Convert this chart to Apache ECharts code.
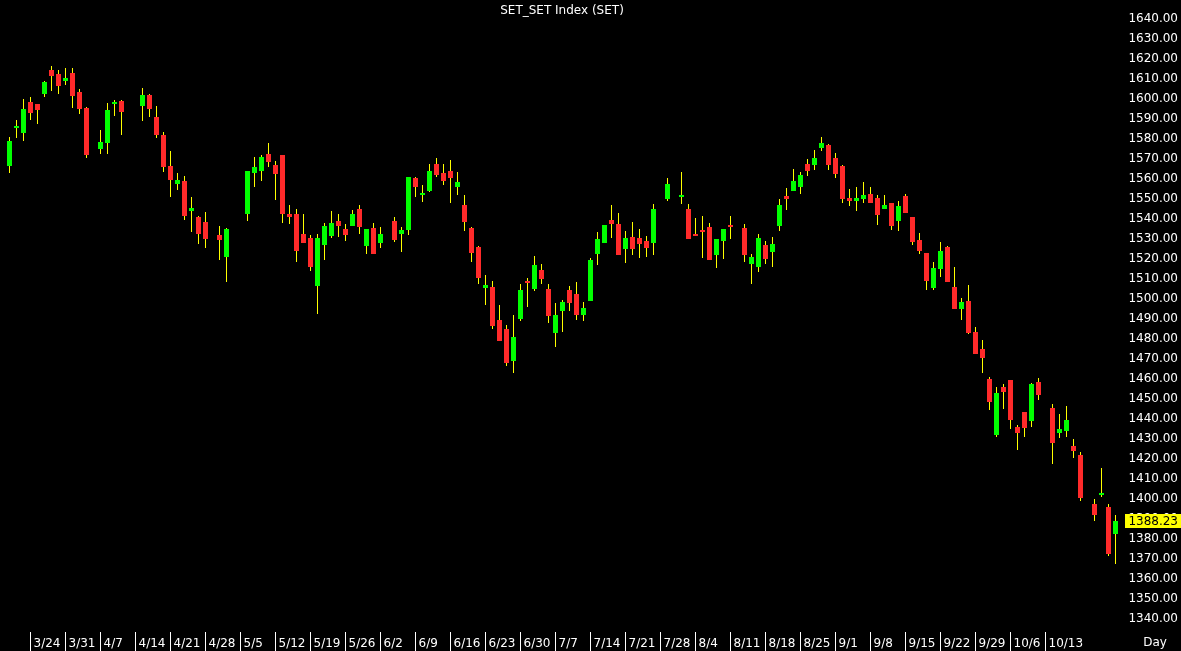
<!DOCTYPE html>
<html>
<head>
<meta charset="utf-8">
<script src="https://cdn.jsdelivr.net/npm/echarts@6/dist/echarts.min.js"></script>
<style>
html,body{margin:0;padding:0;background:#000;}
#chart{width:1181px;height:651px;}
</style>
</head>
<body>
<div id="chart"></div>
<script>
// Trading-day slots (weekdays, 2023); holidays have null values
const categories = ("3/21 3/22 3/23 3/24 3/27 3/28 3/29 3/30 3/31 " +
  "4/3 4/4 4/5 4/6 4/7 4/10 4/11 4/12 4/13 4/14 4/17 4/18 4/19 4/20 4/21 4/24 4/25 4/26 4/27 4/28 " +
  "5/1 5/2 5/3 5/4 5/5 5/8 5/9 5/10 5/11 5/12 5/15 5/16 5/17 5/18 5/19 5/22 5/23 5/24 5/25 5/26 5/29 5/30 5/31 " +
  "6/1 6/2 6/5 6/6 6/7 6/8 6/9 6/12 6/13 6/14 6/15 6/16 6/19 6/20 6/21 6/22 6/23 6/26 6/27 6/28 6/29 6/30 " +
  "7/3 7/4 7/5 7/6 7/7 7/10 7/11 7/12 7/13 7/14 7/17 7/18 7/19 7/20 7/21 7/24 7/25 7/26 7/27 7/28 7/31 " +
  "8/1 8/2 8/3 8/4 8/7 8/8 8/9 8/10 8/11 8/14 8/15 8/16 8/17 8/18 8/21 8/22 8/23 8/24 8/25 8/28 8/29 8/30 8/31 " +
  "9/1 9/4 9/5 9/6 9/7 9/8 9/11 9/12 9/13 9/14 9/15 9/18 9/19 9/20 9/21 9/22 9/25 9/26 9/27 9/28 9/29 " +
  "10/2 10/3 10/4 10/5 10/6 10/9 10/10 10/11 10/12 10/13 10/16 10/17 10/18 10/19 10/20 10/23 10/24 10/25 10/26 10/27").split(" ");

const tickLabels = ["3/24","3/31","4/7","4/14","4/21","4/28","5/5","5/12","5/19","5/26","6/2","6/9","6/16","6/23","6/30",
  "7/7","7/14","7/21","7/28","8/4","8/11","8/18","8/25","9/1","9/8","9/15","9/22","9/29","10/6","10/13"];

const N = null;
const opens = [
 1565.7,1585.0,1582.0,1597.5,1596.3,1601.7,1613.7,1611.7,1607.8,1612.0,1602.5,1594.5,N,1574.0,1577.0,1597.0,1598.0,N,N,1595.7,
 1601.2,1590.0,1581.0,1565.7,1556.3,1558.0,1543.2,1540.0,1537.5,N,1531.0,1520.2,N,N,1541.5,1561.8,1562.8,1571.7,1566.0,1571.2,
 1541.5,1541.7,1531.5,1529.5,1505.3,1526.2,1530.5,1538.0,1533.8,1535.7,1544.0,1525.7,1534.5,1527.0,N,1538.0,1531.5,1533.7,1559.5,1551.2,
 1553.0,1566.5,1562.0,1563.0,1555.0,1546.0,1534.5,1525.0,1504.7,1504.8,1488.5,1484.0,1468.2,1489.0,1508.2,1504.2,1513.5,1504.0,1482.0,1493.2,
 1503.5,1501.5,1491.2,1497.8,1521.5,1527.2,1538.3,1536.5,1524.2,1530.0,1529.5,1527.8,1527.2,N,1548.8,N,1550.2,1544.2,1531.5,1533.7,
 1535.0,1521.2,1528.2,1536.0,N,1534.7,1516.7,1515.2,1526.2,1522.7,1535.7,1550.7,1553.2,1554.8,1566.5,1566.2,1574.7,1576.0,1569.7,1565.5,
 1549.3,1547.8,1549.0,1551.7,1549.5,1544.2,1547.0,1538.2,1550.5,1539.8,1528.3,1522.0,1504.7,1514.0,1525.0,1505.2,1494.2,1498.2,1482.7,1474.0,
 1459.2,1430.8,1455.0,1458.5,1435.0,1442.5,1438.2,1457.5,N,1444.5,1432.0,1433.2,1425.7,1420.8,N,1396.5,1401.3,1395.0,1381.7];
const highs = [
 1580.0,1588.5,1599.0,1600.0,1596.5,1608.0,1615.7,1613.5,1614.3,1614.3,1604.0,1595.0,N,1583.3,1596.8,1598.3,1598.5,N,N,1604.5,
 1601.7,1595.5,1582.7,1572.8,1561.8,1560.3,1550.0,1540.5,1542.5,N,1535.5,1534.3,N,N,1562.8,1569.8,1571.0,1577.0,1568.0,1571.2,
 1546.0,1544.0,1541.5,1530.8,1531.3,1536.8,1543.0,1541.5,1536.5,1543.5,1546.0,1534.0,1537.0,1534.8,N,1539.8,1534.8,1560.0,1559.8,1556.2,
 1566.5,1569.7,1566.5,1568.3,1562.5,1550.8,1535.0,1525.5,1510.8,1508.0,1496.2,1486.2,1491.2,1506.5,1509.5,1520.5,1516.5,1506.3,1497.0,1498.7,
 1505.7,1507.3,1497.5,1519.3,1532.5,1536.0,1546.0,1541.8,1532.8,1537.5,1534.0,1530.5,1546.5,N,1559.5,N,1562.5,1546.3,1539.5,1540.5,
 1537.2,1529.0,1533.8,1540.5,N,1536.3,1521.7,1531.5,1528.0,1529.8,1548.8,1554.5,1564.0,1562.3,1569.2,1573.5,1580.0,1576.7,1572.2,1566.0,
 1554.2,1555.0,1557.3,1554.8,1550.8,1550.8,1547.0,1548.0,1551.3,1539.8,1532.0,1522.0,1517.5,1527.5,1525.5,1515.2,1499.5,1506.0,1485.0,1478.3,
 1460.2,1455.0,1456.7,1458.5,1436.0,1442.5,1457.0,1459.5,N,1446.7,1441.3,1445.7,1429.0,1422.7,N,1399.0,1414.5,1396.3,1391.0];
const lows = [
 1562.0,1579.7,1578.0,1588.5,1586.3,1600.2,1602.8,1601.3,1606.0,1594.3,1591.7,1569.7,N,1571.7,1571.5,1590.7,1581.0,N,N,1588.2,
 1590.0,1579.7,1562.5,1550.0,1553.5,1538.7,1532.7,1526.3,1524.7,N,1518.3,1507.7,N,N,1538.0,1555.2,1558.2,1565.2,1548.3,1537.2,
 1536.7,1517.7,1526.8,1513.0,1491.5,1518.7,1529.7,1530.0,1528.0,1535.7,1531.5,1521.7,1521.5,1524.7,N,1527.3,1522.7,1531.0,1549.8,1547.7,
 1552.3,1559.8,1555.8,1546.8,1551.0,1533.2,1517.7,1506.5,1496.2,1484.2,1478.2,1465.7,1462.2,1488.2,1495.0,1502.8,1506.7,1486.8,1475.2,1482.7,
 1493.0,1488.3,1487.8,1497.8,1515.8,1527.2,1529.7,1521.2,1517.2,1521.2,1519.7,1519.8,1521.2,N,1548.2,N,1546.5,1528.8,1530.7,1519.7,
 1518.7,1514.7,1519.0,1529.2,N,1517.7,1506.3,1512.5,1516.7,1515.2,1533.0,1543.7,1553.0,1551.7,1560.7,1563.5,1573.2,1563.3,1559.7,1547.2,
 1545.7,1543.0,1546.8,1547.2,1536.2,1543.8,1533.7,1532.8,1542.0,1525.8,1521.5,1503.5,1503.5,1509.8,1507.3,1494.0,1488.5,1481.7,1471.7,1462.0,
 1443.5,1430.2,1443.8,1434.2,1423.5,1430.2,1434.8,1448.7,N,1416.7,1429.7,1430.2,1419.7,1398.2,N,1388.0,1399.8,1370.7,1366.7];
const closes = [
 1577.8,1585.5,1594.0,1592.0,1593.5,1607.3,1610.7,1605.7,1609.5,1600.7,1594.2,1571.2,N,1577.5,1593.5,1597.7,1592.7,N,N,1601.0,
 1594.0,1581.0,1565.2,1558.7,1558.5,1540.3,1544.5,1531.3,1529.2,N,1528.5,1534.0,N,N,1562.8,1565.0,1570.0,1567.7,1561.5,1541.5,
 1540.0,1522.8,1526.8,1515.0,1529.7,1535.5,1537.0,1535.5,1531.0,1541.5,1535.0,1534.0,1521.5,1531.7,N,1528.7,1533.7,1560.0,1555.2,1552.0,
 1563.0,1561.2,1557.8,1559.7,1557.3,1537.7,1522.2,1509.5,1506.0,1485.5,1478.2,1467.2,1480.0,1503.7,1507.0,1516.0,1509.0,1490.7,1491.0,1497.5,
 1497.2,1491.2,1494.5,1518.3,1529.2,1535.8,1536.7,1521.2,1529.7,1524.2,1526.7,1524.7,1543.8,N,1556.5,N,1550.8,1529.2,1530.7,1532.7,
 1518.7,1529.0,1533.8,1535.2,N,1521.0,1520.0,1529.5,1519.2,1526.5,1546.0,1549.2,1558.0,1560.8,1563.2,1569.5,1577.2,1566.2,1561.7,1549.0,
 1548.2,1549.3,1550.8,1547.2,1541.2,1545.8,1535.7,1545.5,1542.2,1527.7,1523.2,1508.0,1514.7,1523.2,1507.3,1494.0,1497.7,1482.2,1471.7,1469.7,
 1447.7,1451.8,1452.7,1438.5,1431.8,1434.7,1456.5,1450.8,N,1427.2,1434.0,1438.5,1423.2,1399.5,N,1391.0,1402.2,1371.5,1388.23];

const lastClose = closes[closes.length - 1];

const candleData = [];
for (let i = 0; i < categories.length; i++) {
  if (opens[i] === null) continue;
  candleData.push([i, opens[i], closes[i], lows[i], highs[i]]);
}

const FONT = '"DejaVu Sans", Tahoma, Verdana, sans-serif';
const chart = echarts.init(document.getElementById('chart'), null, {renderer: 'canvas'});

chart.setOption({
  backgroundColor: '#000000',
  animation: false,
  grid: {left: 6, right: 62, top: 17, bottom: 34, containLabel: false},
  xAxis: {
    type: 'category',
    data: categories,
    boundaryGap: true,
    offset: 15,
    axisLine: {show: false},
    axisTick: {
      show: true,
      alignWithLabel: true,
      length: 19,
      interval: (idx, val) => tickLabels.indexOf(val) >= 0,
      lineStyle: {color: '#ffffff', width: 1}
    },
    axisLabel: {
      show: true,
      interval: (idx, val) => tickLabels.indexOf(val) >= 0,
      align: 'left',
      margin: 6,
      padding: [0, 0, 0, 3],
      color: '#ffffff',
      fontFamily: FONT,
      fontSize: 12
    },
    splitLine: {show: false}
  },
  yAxis: {
    type: 'value',
    position: 'right',
    min: 1340,
    max: 1640,
    interval: 10,
    scale: true,
    axisLine: {show: false},
    axisTick: {show: false},
    splitLine: {show: false},
    axisLabel: {
      color: '#ffffff',
      fontFamily: FONT,
      fontSize: 12,
      align: 'right',
      verticalAlign: 'top',
      lineHeight: 4,
      margin: 59,
      formatter: v => v.toFixed(2)
    }
  },
  series: [{
    type: 'custom',
    data: candleData,
    encode: {x: 0, y: [1, 2, 3, 4]},
    renderItem: function (params, api) {
      const x = api.value(0);
      const o = api.value(1), c = api.value(2), l = api.value(3), h = api.value(4);
      const pO = api.coord([x, o]);
      const pC = api.coord([x, c]);
      const pL = api.coord([x, l]);
      const pH = api.coord([x, h]);
      const cx = pO[0];
      const w = 5;
      let top = Math.round(Math.min(pO[1], pC[1]));
      let bot = Math.round(Math.max(pO[1], pC[1]));
      if (bot - top < 2) bot = top + 2;
      const up = c >= o;
      return {
        type: 'group',
        children: [
          {type: 'line', shape: {x1: cx, y1: Math.round(pH[1]), x2: cx, y2: Math.round(pL[1])},
           style: {stroke: '#ffff00', lineWidth: 1}},
          {type: 'rect', shape: {x: cx - w / 2, y: top, width: w, height: bot - top},
           style: {fill: up ? '#00ff00' : '#ff2a2a'}}
        ]
      };
    }
  }]
});

const py = chart.convertToPixel({yAxisIndex: 0}, lastClose);
chart.setOption({
  graphic: [
    {type: 'text', style: {text: 'SET_SET Index (SET)', x: 562, y: 11, fill: '#ffffff',
      font: '12px ' + FONT, textAlign: 'center', textVerticalAlign: 'middle'}, z: 100},
    {type: 'text', style: {text: 'Day', x: 1155, y: 643, fill: '#ffffff',
      font: '12px ' + FONT, textAlign: 'center', textVerticalAlign: 'middle'}, z: 100},
    {type: 'rect', shape: {x: 1125, y: Math.round(py) - 7, width: 56, height: 14},
      style: {fill: '#ffff00'}, z: 100},
    {type: 'text', style: {text: lastClose.toFixed(2), x: 1178, y: Math.round(py) + 1, fill: '#000000',
      font: '12px ' + FONT, textAlign: 'right', textVerticalAlign: 'middle'}, z: 101}
  ]
});
</script>
</body>
</html>
